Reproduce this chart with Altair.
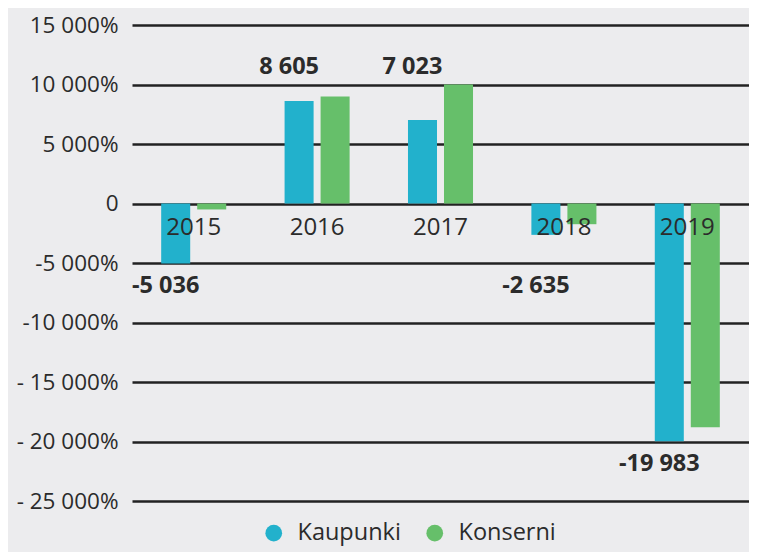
import altair as alt
import pandas as pd

years = ["2015", "2016", "2017", "2018", "2019"]
kaupunki = [-5036, 8605, 7023, -2635, -19983]
konserni = [-500, 8990, 10000, -1740, -18800]
value_labels = ["-5 036", "8 605", "7 023", "-2 635", "-19 983"]
series = ["Kaupunki", "Konserni"]
colors = ["#22B1CC", "#66BF6A"]
tick_values = [15000, 10000, 5000, 0, -5000, -10000, -15000, -20000, -25000]
tick_labels = ["15 000%", "10 000%", "5 000%", "0", "-5 000%", "-10 000%",
               "- 15 000%", "- 20 000%", "- 25 000%"]

rows = []
for i, y in enumerate(years):
    rows.append({"year": y, "series": series[0], "value": kaupunki[i]})
    rows.append({"year": y, "series": series[1], "value": konserni[i]})
bars_df = pd.DataFrame(rows)
lab_df = pd.DataFrame({"year": years, "value": kaupunki, "label": value_labels})
yr_df = pd.DataFrame({"year": years})

label_expr = "''"
for v, t in zip(tick_values, tick_labels):
    label_expr = f"datum.value == {v} ? '{t}' : ({label_expr})"

FONT = "Open Sans"
TXT = "#2b2b2b"

x_scale = alt.Scale(paddingInner=0.473, paddingOuter=0.2365)
x_enc = alt.X("year:N", sort=years, axis=None, scale=x_scale)
y_scale = alt.Scale(domain=[-25000, 15000], nice=False, zero=False)

bars = alt.Chart(bars_df).mark_bar().encode(
    x=x_enc,
    xOffset=alt.XOffset("series:N", sort=series,
                        scale=alt.Scale(paddingInner=0.194, paddingOuter=0)),
    y=alt.Y("value:Q", scale=y_scale,
            axis=alt.Axis(values=tick_values, labelExpr=label_expr, title=None,
                          domain=False, ticks=False, grid=True, gridColor="#222222",
                          gridWidth=2.5, labelFont=FONT, labelFontSize=22.5,
                          labelColor=TXT, labelPadding=14)),
    y2=alt.datum(0),
    color=alt.Color("series:N", sort=series,
                    scale=alt.Scale(domain=series, range=colors),
                    legend=alt.Legend(title=None, orient="none", direction="horizontal",
                                      legendX=130, legendY=496, symbolType="circle",
                                      symbolSize=280, symbolStrokeWidth=0,
                                      labelFont=FONT, labelFontSize=23.5, labelColor=TXT,
                                      labelOffset=12, columnPadding=22)),
)

vlabels = alt.Chart(lab_df).transform_calculate(
    ypos="datum.value > 0 ? max(datum.value, 10000) + 1500 : min(datum.value, -5000) - 1900"
).mark_text(font=FONT, fontSize=23.5, fontWeight="bold", color=TXT, dx=-28,
            baseline="middle").encode(
    x=alt.X("year:N", sort=years, axis=None, scale=x_scale),
    y=alt.Y("ypos:Q", scale=y_scale),
    text="label:N",
)

ylabels = alt.Chart(yr_df).mark_text(font=FONT, fontSize=24, color=TXT, dy=24,
                                      baseline="middle").encode(
    x=alt.X("year:N", sort=years, axis=None, scale=x_scale),
    y=alt.datum(0),
    text="year:N",
)

chart = alt.layer(bars, vlabels, ylabels).properties(
    width=617, height=476,
    autosize=alt.AutoSizeParams(type="none"),
    padding={"left": 124, "top": 17, "right": 0, "bottom": 51},
    background="#ECECEE",
).configure_view(stroke=None)

chart.save("out.html", embed_options={"renderer": "svg", "actions": False})
